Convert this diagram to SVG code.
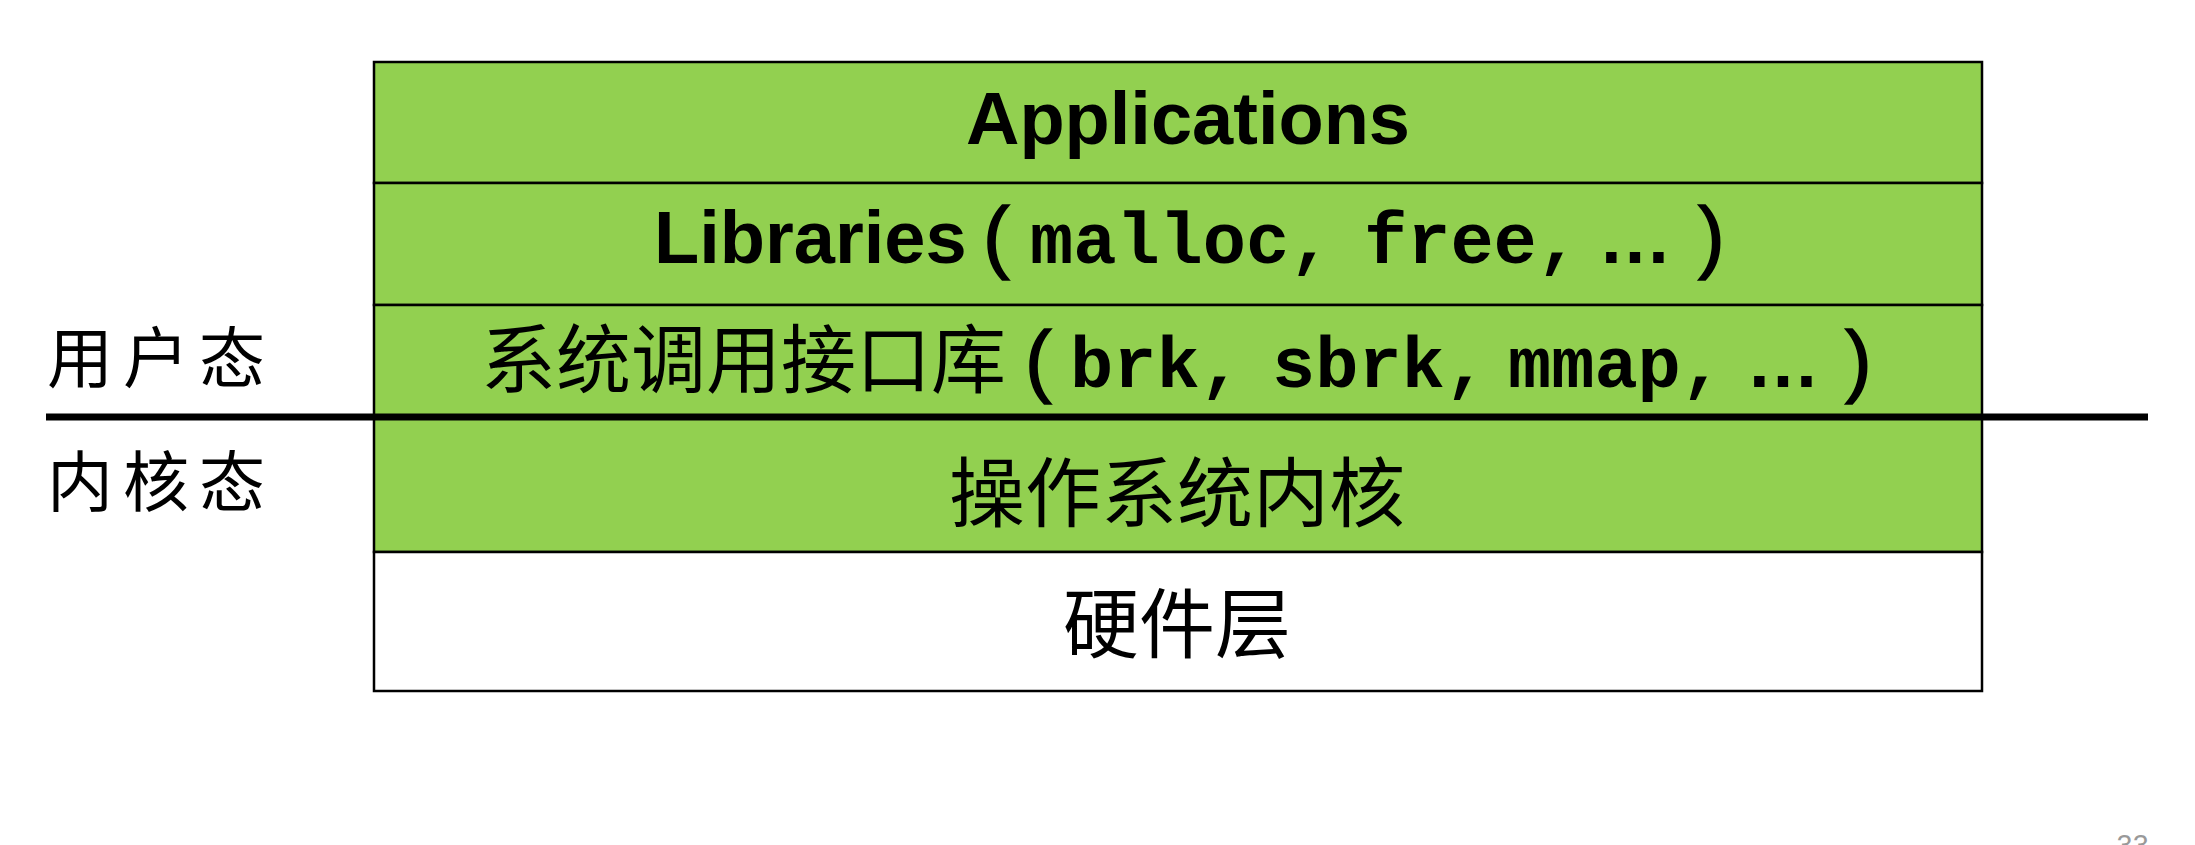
<svg xmlns="http://www.w3.org/2000/svg" width="2195" height="845" viewBox="0 0 2195 845">
<style>
.box{stroke:#000;stroke-width:2.5}
.g{fill:#92D050}
.w{fill:#fff}
.en{font-family:"Liberation Sans",Arial,sans-serif;font-weight:bold;font-size:74px;fill:#000}
.par{font-family:"Liberation Sans",Arial,sans-serif;font-weight:normal;font-size:80px;fill:#000;stroke:#000;stroke-width:1.5}
.mono{font-family:"Liberation Mono","Courier New",monospace;font-weight:bold;font-size:72px;fill:#000}
.cn{font-family:"Noto Sans CJK SC","Noto Sans",sans-serif;font-size:76px;fill:#000}
.lab{font-family:"Noto Sans CJK SC",sans-serif;font-size:66px;letter-spacing:10px;fill:#000}
</style>
<rect width="2195" height="845" fill="#fff"/>
<g id="applications">
<rect class="box g" x="374" y="62" width="1608" height="121"/>
<text class="en" x="1188" y="144" text-anchor="middle">Applications</text>
</g>
<g id="libraries">
<rect class="box g" x="374" y="183" width="1608" height="122"/>
<text y="263"><tspan class="en" x="654">Libraries</tspan><tspan class="par" x="983">(</tspan><tspan class="mono" x="1030">malloc,</tspan><tspan class="mono" x="1364">free,</tspan><tspan class="en" x="1598">…</tspan><tspan class="par" x="1698">)</tspan></text>
</g>
<g id="syscall">
<rect class="box g" x="374" y="305" width="1608" height="112"/>
<text y="387"><tspan class="cn" x="481" style="font-size:75px">系统调用接口库</tspan><tspan class="par" x="1025">(</tspan><tspan class="mono" x="1070">brk,</tspan><tspan class="mono" x="1272">sbrk,</tspan><tspan class="mono" x="1508">mmap,</tspan><tspan class="en" x="1746">…</tspan><tspan class="par" x="1845">)</tspan></text>
</g>
<g id="kernel">
<rect class="box g" x="374" y="417" width="1608" height="135"/>
<text class="cn" x="1177" y="521" text-anchor="middle">操作系统内核</text>
</g>
<g id="hardware">
<rect class="box w" x="374" y="552" width="1608" height="139"/>
<text class="cn" x="1177" y="652" text-anchor="middle">硬件层</text>
</g>
<g id="labels">
<text class="lab" x="47" y="382">用户态</text>
<text class="lab" x="47" y="506">内核态</text>
</g>
<g id="connectors">
<line x1="46" y1="417" x2="2148" y2="417" stroke="#000" stroke-width="7"/>
</g>
<text x="2149" y="856" text-anchor="end" font-family="Roboto,'Liberation Sans',sans-serif" font-size="29" fill="#999">33</text>
</svg>
